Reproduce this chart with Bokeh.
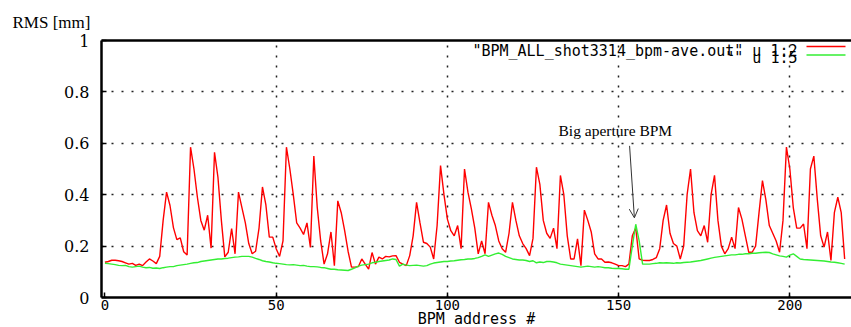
from bokeh.plotting import figure
from bokeh.models import (FixedTicker, Label, Arrow, OpenHead, LinearAxis, Range1d, Title,
                          CustomJSTickFormatter)
from bokeh.embed import file_html
from bokeh.resources import INLINE

# ---- data -------------------------------------------------------------
rms_u12 = [
    0.137, 0.140, 0.145, 0.145, 0.143, 0.140, 0.135, 0.130, 0.133, 0.125,
    0.130, 0.124, 0.138, 0.150, 0.142, 0.132, 0.160, 0.300, 0.410, 0.358,
    0.272, 0.225, 0.232, 0.178, 0.165, 0.585, 0.500, 0.390, 0.300, 0.262,
    0.320, 0.192, 0.565, 0.468, 0.300, 0.158, 0.176, 0.268, 0.170, 0.410,
    0.350, 0.290, 0.210, 0.170, 0.180, 0.270, 0.430, 0.360, 0.235, 0.235,
    0.190, 0.160, 0.220, 0.585, 0.500, 0.400, 0.290, 0.270, 0.245, 0.290,
    0.195, 0.550, 0.350, 0.220, 0.130, 0.170, 0.255, 0.124, 0.376, 0.330,
    0.260, 0.180, 0.118, 0.118, 0.120, 0.150, 0.130, 0.110, 0.175, 0.130,
    0.157, 0.150, 0.160, 0.158, 0.162, 0.163, 0.137, 0.130, 0.124, 0.163,
    0.240, 0.370, 0.290, 0.215, 0.210, 0.196, 0.150, 0.280, 0.513, 0.400,
    0.305, 0.260, 0.240, 0.280, 0.190, 0.500, 0.410, 0.345, 0.270, 0.170,
    0.220, 0.170, 0.370, 0.320, 0.280, 0.220, 0.190, 0.176, 0.250, 0.370,
    0.300, 0.240, 0.210, 0.190, 0.163, 0.230, 0.507, 0.440, 0.300, 0.250,
    0.230, 0.270, 0.190, 0.475, 0.400, 0.240, 0.150, 0.150, 0.228, 0.124,
    0.340, 0.300, 0.255, 0.170, 0.150, 0.150, 0.137, 0.138, 0.135, 0.130,
    0.124, 0.124, 0.120, 0.130, 0.240, 0.270, 0.150, 0.145, 0.144, 0.144,
    0.148, 0.155, 0.190, 0.300, 0.360, 0.250, 0.210, 0.200, 0.150, 0.200,
    0.400, 0.500, 0.330, 0.260, 0.240, 0.280, 0.215, 0.400, 0.475, 0.300,
    0.200, 0.170, 0.190, 0.235, 0.190, 0.350, 0.305, 0.240, 0.176, 0.176,
    0.200, 0.330, 0.455, 0.380, 0.280, 0.250, 0.220, 0.176, 0.300, 0.585,
    0.500, 0.350, 0.270, 0.270, 0.286, 0.190, 0.500, 0.550, 0.384, 0.240,
    0.196, 0.255, 0.144, 0.330, 0.390, 0.330, 0.150,
]
rms_u15 = [
    0.133, 0.132, 0.130, 0.128, 0.125, 0.124, 0.125, 0.120, 0.118, 0.120,
    0.122, 0.118, 0.116, 0.117, 0.114, 0.115, 0.113, 0.116, 0.118, 0.120,
    0.120, 0.124, 0.126, 0.128, 0.130, 0.133, 0.135, 0.136, 0.140, 0.142,
    0.144, 0.146, 0.148, 0.150, 0.150, 0.152, 0.153, 0.155, 0.157, 0.158,
    0.160, 0.160, 0.160, 0.157, 0.152, 0.148, 0.143, 0.140, 0.138, 0.135,
    0.133, 0.132, 0.130, 0.128, 0.127, 0.128, 0.126, 0.124, 0.125, 0.122,
    0.120, 0.120, 0.119, 0.117, 0.116, 0.113, 0.110, 0.110, 0.108, 0.107,
    0.106, 0.105, 0.110, 0.115, 0.122, 0.126, 0.128, 0.130, 0.135, 0.137,
    0.140, 0.142, 0.144, 0.146, 0.150, 0.148, 0.122, 0.130, 0.126, 0.124,
    0.125, 0.126, 0.124, 0.122, 0.124, 0.130, 0.134, 0.136, 0.138, 0.140,
    0.140, 0.142, 0.143, 0.145, 0.147, 0.148, 0.150, 0.150, 0.152, 0.155,
    0.160, 0.166, 0.160, 0.165, 0.170, 0.173, 0.168, 0.160, 0.155, 0.150,
    0.148, 0.146, 0.146, 0.144, 0.140, 0.143, 0.135, 0.138, 0.136, 0.140,
    0.140, 0.138, 0.135, 0.130, 0.128, 0.126, 0.124, 0.122, 0.120, 0.118,
    0.120, 0.122, 0.120, 0.118, 0.120, 0.118, 0.116, 0.116, 0.114, 0.113,
    0.113, 0.112, 0.110, 0.110, 0.200, 0.285, 0.220, 0.130, 0.130, 0.130,
    0.132, 0.133, 0.135, 0.134, 0.135, 0.134, 0.133, 0.135, 0.134, 0.136,
    0.137, 0.138, 0.140, 0.142, 0.144, 0.147, 0.150, 0.153, 0.156, 0.158,
    0.160, 0.162, 0.164, 0.166, 0.166, 0.168, 0.168, 0.170, 0.170, 0.172,
    0.172, 0.174, 0.175, 0.176, 0.175, 0.170, 0.166, 0.162, 0.160, 0.157,
    0.165, 0.170, 0.160, 0.150, 0.148, 0.147, 0.146, 0.145, 0.144, 0.143,
    0.142, 0.140, 0.138, 0.137, 0.135, 0.133, 0.130,
]
bpm_address = list(range(len(rms_u12)))

x_ticks = [0, 50, 100, 150, 200]
y_ticks = [0, 0.2, 0.4, 0.6, 0.8, 1]
y_tick_labels = ["0", "0.2", "0.4", "0.6", "0.8", "1"]
legend_labels = ['"BPM_ALL_shot3314_bpm-ave.out" u 1:2', '"" u 1:5']
series_colors = ["#ff0000", "#33ee33"]

SERIF = "Liberation Serif"
MONO = "DejaVu Sans Mono"

# ---- figure -----------------------------------------------------------
p = figure(frame_width=750, frame_height=257, x_range=Range1d(-1, 218), y_range=Range1d(0, 1),
           output_backend="svg", toolbar_location=None,
           min_border_left=101, min_border_right=0, min_border_top=40, min_border_bottom=30)
p.outline_line_color = None
p.background_fill_color = "white"
p.border_fill_color = "white"

xax = p.xaxis[0]
yax = p.yaxis[0]

# axes
for ax in (xax, yax):
    ax.axis_line_width = 2.5
    ax.axis_line_color = "black"
    ax.major_tick_in = 5
    ax.major_tick_out = 0
    ax.major_tick_line_color = "black"
    ax.major_tick_line_width = 1.5
    ax.minor_tick_line_color = None

xax.ticker = FixedTicker(ticks=x_ticks)
xax.major_label_text_font = MONO
xax.major_label_text_font_size = "14px"
xax.major_label_text_color = "black"
xax.major_label_standoff = 2
xax.axis_label = "BPM address #"
xax.axis_label_text_font = MONO
xax.axis_label_text_font_style = "normal"
xax.axis_label_text_font_size = "15px"
xax.axis_label_text_color = "black"
xax.axis_label_standoff = -3

yax.ticker = FixedTicker(ticks=y_ticks)
yax.formatter = CustomJSTickFormatter(
    args=dict(tick_values=y_ticks, tick_texts=y_tick_labels),
    code="""
        for (let i = 0; i < tick_values.length; i++) {
            if (Math.abs(tick_values[i] - tick) < 1e-9) { return tick_texts[i]; }
        }
        return "";
    """)
yax.major_label_text_font = "DejaVu Serif"
yax.major_label_text_font_style = "normal"
yax.major_label_text_font_size = "16px"
yax.major_label_text_color = "black"
yax.major_label_standoff = 12

top = LinearAxis(ticker=FixedTicker(ticks=[]), axis_line_width=2.5, axis_line_color="black",
                 major_tick_line_color=None, minor_tick_line_color=None,
                 major_label_text_font_size="0px")
p.add_layout(top, "above")

# y-axis title written horizontally above the axis
p.add_layout(Title(text="RMS [mm]", align="left", offset=-89, standoff=14,
                   vertical_align="top",
                   text_font=SERIF, text_font_size="17px", text_font_style="normal",
                   text_color="black"), "above")

# grid
p.xgrid.ticker = FixedTicker(ticks=x_ticks[1:])
p.ygrid.ticker = FixedTicker(ticks=y_ticks[1:-1])
for g in (p.xgrid[0], p.ygrid[0]):
    g.grid_line_color = "#222222"
    g.grid_line_width = 1.5
    g.grid_line_dash = "2 8"

# series (green drawn last, on top)
p.line(bpm_address, rms_u12, line_color=series_colors[0], line_width=1.4)
p.line(bpm_address, rms_u15, line_color=series_colors[1], line_width=1.4)

# legend (text right-aligned, sample line to the right of text)
for i, (lab, col) in enumerate(zip(legend_labels, series_colors)):
    p.add_layout(Label(x=696, y=247 - 7 * i, x_units="screen", y_units="screen",
                       text=lab, text_align="right", text_baseline="alphabetic",
                       text_font=MONO, text_font_size="15px", text_color="black"))
    p.add_layout(Arrow(x_start=705, y_start=251 - 8.5 * i, x_end=744, y_end=251 - 8.5 * i,
                       start_units="screen", end_units="screen", end=None,
                       line_color=col, line_width=1.4))

# annotation
spike = 155
p.add_layout(Label(x=457, y=167, x_units="screen", y_units="screen", text="Big aperture BPM",
                   text_font=SERIF, text_font_size="15.5px", text_color="black",
                   text_baseline="alphabetic"))
p.add_layout(Arrow(x_start=bpm_address[spike] - 1.8, y_start=0.59,
                   x_end=bpm_address[spike] - 0.4, y_end=rms_u15[spike] + 0.025,
                   line_color="#333333", line_width=1,
                   end=OpenHead(size=9, line_color="#333333", line_width=1)))

open("out.html", "w").write(file_html(p, INLINE))
